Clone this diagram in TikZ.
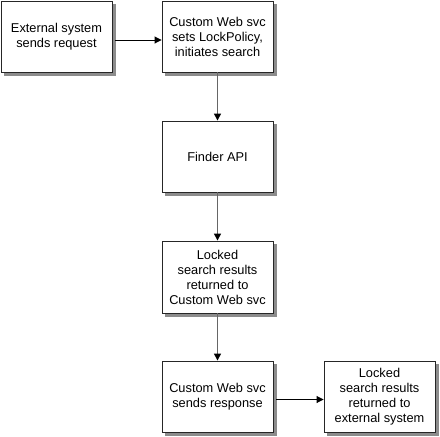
\documentclass[tikz,border=0pt]{standalone}
\usepackage{fontspec}
\setmainfont{Liberation Sans}
\usetikzlibrary{arrows.meta,backgrounds}
\begin{document}
\begin{tikzpicture}[x=1pt,y=-1pt,
  box/.style={draw=black!85,line width=0.9pt,fill=white,minimum width=111pt,minimum height=71pt,
    inner sep=2pt,align=center,font=\fontsize{12.8}{15}\selectfont},
  shadowbox/.style={fill=black!45,draw=none},
  vline/.style={draw=black!60,line width=1.4pt,-{Triangle[length=7pt,width=7pt,color=black]}},
  hline/.style={draw=black,line width=0.9pt,-{Triangle[length=7pt,width=7pt]}}]
\useasboundingbox (0,0) rectangle (440,437);
\node[box] (b1) at (56.5,36.5) {External system\\sends request};
\node[box] (b2) at (217.5,36.5) {Custom Web svc\\sets LockPolicy,\\initiates search};
\node[box] (b3) at (217.5,156.5) {Finder API};
\node[box,minimum height=72pt] (b4) at (217.5,277) {Locked\\search results\\returned to\\Custom Web svc};
\node[box] (b5) at (217.5,396.5) {Custom Web svc\\sends response};
\node[box] (b6) at (379.5,396.5) {Locked\\search results\\returned to\\external system};
\begin{scope}[on background layer]
\foreach \n in {b1,b2,b3,b4,b5,b6}
  \fill[shadowbox] ([shift={(3.5,3.5)}]\n.north west) rectangle ([shift={(3.5,3.5)}]\n.south east);
\end{scope}
\draw[hline] ([xshift=3pt,yshift=-3.5pt]b1.east) -- ([yshift=-3.5pt]b2.west);
\draw[vline] (b2.south) -- (b3.north);
\draw[vline] (b3.south) -- (b4.north);
\draw[vline] (b4.south) -- (b5.north);
\draw[hline] ([xshift=3pt,yshift=-3pt]b5.east) -- ([yshift=-3pt]b6.west);
\end{tikzpicture}
\end{document}
